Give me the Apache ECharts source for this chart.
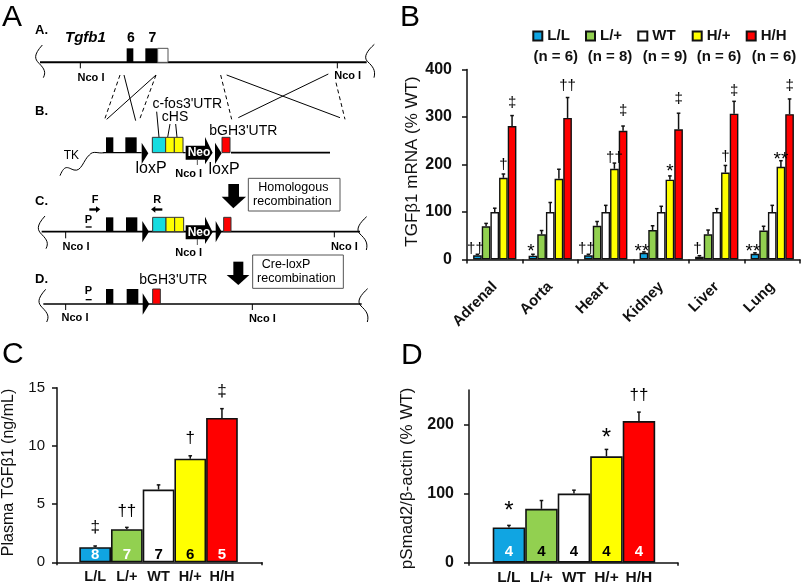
<!DOCTYPE html>
<html><head><meta charset="utf-8">
<script src="https://cdn.jsdelivr.net/npm/echarts@6/dist/echarts.min.js"></script>
<style>html,body{margin:0;padding:0;background:#fff}#c{width:803px;height:583px}</style>
</head><body><div id="c"></div>
<script>
// ---------- chart values ----------
const tissues = ['Adrenal','Aorta','Heart','Kidney','Liver','Lung'];
const genotypes = ['L/L','L/+','WT','H/+','H/H'];
const groupSizes = ['(n = 6)','(n = 8)','(n = 9)','(n = 6)','(n = 6)'];
const colours = ['#10A5E2','#92D050','#FFFFFF','#FFFF00','#FF0000'];

const mrnaLL = [9,8,9,14,6,12];
const mrnaLH = [70,53,71,62,53,61];
const mrnaWT = [100,100,100,100,100,100];
const mrnaHH1 = [172,170,191,168,183,195];
const mrnaHH2 = [281,298,271,274,307,306];
const mrnaValues = [mrnaLL,mrnaLH,mrnaWT,mrnaHH1,mrnaHH2];

const mrnaTopLL = [11,11,11,16,8,14];
const mrnaTopLH = [76,61,80,71,62,70];
const mrnaTopWT = [108,120,114,112,107,114];
const mrnaTopHH1 = [180,190,203,176,198,208];
const mrnaTopHH2 = [303,341,281,308,333,338];
const mrnaTops = [mrnaTopLL,mrnaTopLH,mrnaTopWT,mrnaTopHH1,mrnaTopHH2];

// [genotype index, tissue index, symbol, height]
const mrnaMarks = [
 [0,0,'††',23],[0,1,'*',22],[0,2,'††',23],[0,3,'**',22],[0,4,'†',23],[0,5,'**',22],
 [3,0,'†',199],[3,2,'††',213],[3,3,'*',191],[3,4,'†',216],[3,5,'**',217],
 [4,0,'‡',330],[4,1,'††',366],[4,2,'‡',313],[4,3,'‡',339],[4,4,'‡',356],[4,5,'‡',365]
];

const plasmaValues = [1.3,2.85,6.25,8.9,12.4];
const plasmaTops = [1.4,3.0,6.65,9.15,13.2];
const plasmaCounts = ['8','7','7','6','5'];
const plasmaCountColours = ['#fff','#fff','#000','#000','#fff'];
const plasmaMarks = [[0,0,'‡',3.0],[0,1,'††',4.4],[0,3,'†',10.65],[0,4,'‡',14.65]];

const smadValues = [51,78,100,154,205];
const smadTops = [54,90,105,164,218];
const smadCounts = ['4','4','4','4','4'];
const smadCountColours = ['#fff','#000','#000','#000','#fff'];
const smadMarks = [[0,0,'*',78],[0,3,'*',184],[0,4,'††',242]];

// ---------- helpers ----------
const FF = '"Liberation Sans"';
const LINE = '#111';
const BAR_SHARE = 0.78 / 5;

function errSeries(xi, yi, values, tops, slot) {
  return {
    type:'custom', xAxisIndex:xi, yAxisIndex:yi, z:1, silent:true, clip:false,
    data: values.map((v,i)=>[i,v,tops[i]]),
    encode:{x:0,y:[1,2]},
    renderItem(p, api){
      const c = api.value(0);
      const a = api.coord([c, api.value(1)]), b = api.coord([c, api.value(2)]);
      const size = api.size([1,0])[0];
      const x = a[0] + (slot===null ? 0 : (slot-2)*size*BAR_SHARE);
      const st = {stroke:LINE, lineWidth:1.5};
      return {type:'group', children:[
        {type:'line', shape:{x1:x,y1:a[1],x2:x,y2:b[1]}, style:st},
        {type:'line', shape:{x1:x-1.8,y1:b[1],x2:x+1.8,y2:b[1]}, style:st}
      ]};
    }
  };
}
function markSeries(xi, yi, marks, multi, size, starSize) {
  return {
    type:'custom', xAxisIndex:xi, yAxisIndex:yi, z:5, silent:true, clip:false,
    data: marks.map(m=>[m[1],m[3],m[0]]),
    encode:{x:0,y:1},
    renderItem(p, api){
      const m = marks[p.dataIndex];
      const pt = api.coord([api.value(0), api.value(1)]);
      const w = api.size([1,0])[0];
      const star = m[2].indexOf('*')>=0;
      const x = pt[0] + (multi ? (m[0]-2)*w*BAR_SHARE - (m[0]===0?2:0) : 0);
      return {type:'text', style:{
        text:m[2], x:x, y:pt[1]+(star?3:0), textAlign:'center', textVerticalAlign:'middle',
        font:(star?starSize:size)+'px '+FF, fill:'#000'
      }};
    }
  };
}
function singleBars(xi, yi, values, counts, countColours, dist) {
  return {
    type:'bar', xAxisIndex:xi, yAxisIndex:yi, barWidth:'100%', z:2, silent:true,
    data: values.map((v,i)=>({
      value:v,
      itemStyle:{color:colours[i],borderColor:LINE,borderWidth:1.6},
      label:{show:true,position:'insideBottom',distance:dist,formatter:counts[i],
             color:countColours[i],fontFamily:FF,fontWeight:'bold',fontSize:15}
    }))
  };
}
function valueAxis(grid, min, max, interval, title, titleSize, gap, pad, ticks, label) {
  return {
    type:'value', gridIndex:grid, min:min, max:max, interval:interval,
    name:title, nameLocation:'middle', nameGap:gap, nameRotate:90, nameMoveOverlap:false,
    nameTextStyle:{fontFamily:FF,fontSize:titleSize,color:'#111',padding:pad},
    axisLine:{show:true,lineStyle:{color:LINE,width:1.5}},
    axisTick:{show:true,length:5,inside:false,lineStyle:{color:LINE,width:1.5},customValues:ticks},
    axisLabel:Object.assign({show:true,fontFamily:FF,color:'#111',customValues:ticks},label),
    splitLine:{show:false}
  };
}
function hiddenY(grid,min,max){
  return {type:'value',gridIndex:grid,min:min,max:max,show:false,splitLine:{show:false}};
}
function frameX(grid){
  return {type:'value',gridIndex:grid,min:0,max:1,interval:1,
    axisLine:{show:true,onZero:false,lineStyle:{color:LINE,width:1.5}},
    axisTick:{show:true,length:3,lineStyle:{color:LINE,width:1.5}},
    axisLabel:{show:false},splitLine:{show:false}};
}
function barsX(grid,size){
  return {type:'category',gridIndex:grid,data:genotypes,boundaryGap:true,
    axisLine:{show:false},axisTick:{show:false},
    axisLabel:{show:true,interval:0,fontFamily:FF,fontWeight:'bold',fontSize:size,color:'#111',margin:7}};
}

// ---------- panel A schematic, in 3x zoom units ----------
const g = [];
const s = v => v/3;
function txt(t,x,y,font,fill,align){g.push({type:'text',silent:true,style:{text:t,x:s(x),y:s(y),
  textAlign:align||'center',textVerticalAlign:'middle',font:font+' '+FF,fill:fill||'#000'}});}
function rect(x,y,w,h,fill,stroke,lw){g.push({type:'rect',silent:true,shape:{x:s(x),y:s(y),width:s(w),height:s(h)},
  style:{fill:fill,stroke:stroke||null,lineWidth:lw||0}});}
function ln(x1,y1,x2,y2,lw,dash,col){g.push({type:'line',silent:true,shape:{x1:s(x1),y1:s(y1),x2:s(x2),y2:s(y2)},
  style:{stroke:col||'#000',lineWidth:lw||1,lineDash:dash?[4,3]:null}});}
function poly(pts,fill){g.push({type:'polygon',silent:true,shape:{points:pts.map(p=>[s(p[0]),s(p[1])])},style:{fill:fill||'#000'}});}
// curve: start point followed by triples of control, control, end
function curve(p,lw){
  for(let i=2;i+5<p.length;i+=6){
    g.push({type:'bezierCurve',silent:true,shape:{x1:s(p[i-2]),y1:s(p[i-1]),cpx1:s(p[i]),cpy1:s(p[i+1]),
      cpx2:s(p[i+2]),cpy2:s(p[i+3]),x2:s(p[i+4]),y2:s(p[i+5])},style:{fill:null,stroke:'#000',lineWidth:lw||1}});
  }
}
const NCO = 'bold 11px';
function nco(tx,ty1,ty2,cx,cy){ln(tx,ty1,tx,ty2,1);txt('Nco I',cx,cy,NCO);}
function neo(y){
  poly([[557,y-21],[615,y-21],[615,y-47],[638,y],[615,y+35],[615,y+21],[557,y+21]]);
  txt('Neo',597,y,'bold 12px','#fff');
}
function tri(x,y,w){poly([[x,y-32],[x,y+32],[x+(w||20),y]]);}
function boxes(x1,x2,x3,x4,y,h){
  rect(x1,y,x2-x1,h,'#16DCE0','#333',1);rect(x2,y,x3-x2,h,'#FFFF00','#333',1);rect(x3,y,x4-x3,h,'#FFFF00','#333',1);
}
const braceL = (x,y) => [x+15,y, x-12,y+30, x-8,y+42, x+5,y+55, x+22,y+72, x+26,y+82, x+18,y+98];
const braceR = (x,y) => [x+25,y, x+5,y+18, x-10,y+38, x+5,y+52, x+20,y+66, x+30,y+78, x+24,y+100];

// panel letters
[['A',2,17.5],['B',400,17.5],['C',2,355],['D',401,355.5]].forEach(a=>g.push({type:'text',silent:true,style:{text:a[0],x:a[1],y:a[2],
  textAlign:'left',textVerticalAlign:'middle',font:'30px '+FF,fill:'#000'}}));

// row A
txt('A.',105,92,'bold 13px','#000','left');
txt('Tgfb1',195,115,'italic bold 15px','#000','left');
txt('6',393,115,'bold 14px');txt('7',457,115,'bold 14px');
ln(120,187,1100,187,2);
curve(braceL(112,135));curve(braceR(1098,133));
rect(380,145,20,42,'#000');rect(436,145,37,42,'#000');rect(473,145,31,42,'#fff','#555',1);
nco(241,187,205,273,233);nco(1012,187,205,1043,229);

// homology crossings
ln(372,225,407,362,1);ln(468,225,320,358,1);
ln(360,225,315,355,1,true);ln(468,225,420,355,1,true);
ln(662,225,695,358,1,true);ln(680,225,1020,353,1);ln(985,222,715,353,1);ln(1008,248,1035,358,1,true);

// row B
txt('B.',105,335,'bold 13px','#000','left');
txt("c-fos3'UTR",562,312,'14px');txt('cHS',525,352,'14px');txt("bGH3'UTR",730,392,'14px');
ln(470,335,477,412,1);ln(510,372,503,412,1);ln(527,372,531,412,1);
curve([180,527, 195,490, 205,505, 222,510, 245,516, 250,480, 268,465, 280,450, 295,462, 312,458],1);
txt('TK',214,468,'12px');
ln(310,458,425,458,1.2);ln(693,458,990,458,1.8);
rect(318,412,22,46,'#000');rect(376,412,34,46,'#000');
tri(425,460);
boxes(457,497,523,549,412,46);
ln(549,458,557,458,1.2);
neo(458);
ln(592,478,592,495,1,false,'#555');
txt('Nco I',566,523,NCO);
tri(645,460);rect(666,412,24,46,'#FF0000','#333',1);
txt('loxP',453,506,'16px');txt('loxP',672,508,'16px');

// arrow + box 1
rect(685,552,32,40,'#000');poly([[665,590],[738,590],[700,625]]);
rect(745,535,275,98,'#fff','#555',1);
txt('Homologous',880,563,'12.5px');txt('recombination',877,605,'12.5px');

// row C
txt('C.',105,605,'bold 13px','#000','left');
txt('F',285,600,'bold 11px');txt('R',472,600,'bold 11px');txt('P',265,660,'bold 11px');
rect(268,625,22,7,'#000');poly([[288,619],[301,628],[288,638]]);
rect(464,625,23,7,'#000');poly([[466,619],[453,628],[466,638]]);
rect(257,679,18,4,'#000');
ln(125,695,1080,695,1.6);
curve(braceL(120,648));curve(braceR(1075,650));
rect(318,652,22,43,'#000');rect(378,652,34,43,'#000');
tri(427,695);
boxes(458,498,524,551,652,43);
neo(697);
ln(592,717,592,735,1,false,'#555');
tri(647,695,18);rect(671,652,22,43,'#FF0000','#333',1);
nco(197,695,715,228,742);nco(1003,695,712,1033,741);
txt('Nco I',566,758,NCO);

// arrow + box 2
rect(700,785,30,42,'#000');poly([[680,825],[748,825],[715,855]]);
rect(758,765,272,100,'#fff','#555',1);
txt('Cre-loxP',858,793,'12.5px');txt('recombination',889,835,'12.5px');

// row D
txt('D.',105,838,'bold 13px','#000','left');
txt("bGH3'UTR",520,840,'14px');
txt('P',265,873,'bold 11px');rect(257,897,18,4,'#000');
ln(130,912,1085,912,1.6);
curve(braceL(122,868));curve(braceR(1078,866));
rect(318,867,22,45,'#000');rect(380,867,35,45,'#000');
tri(428,912);
rect(458,867,23,45,'#FF0000','#333',1);
nco(197,912,930,225,955);nco(757,912,930,787,957);

// group-size line under the legend of panel B
const groupSizeX = [555.7,610,665,719,774];
groupSizes.forEach((t,i)=>g.push({type:'text',silent:true,style:{text:t,x:groupSizeX[i],y:56.5,
  textAlign:'center',textVerticalAlign:'middle',font:'bold 15px '+FF,fill:'#111'}}));

// ---------- chart ----------
const series = [];
genotypes.forEach((name,i)=>{
  series.push({type:'bar',name:name,xAxisIndex:0,yAxisIndex:0,data:mrnaValues[i],z:2,silent:true,
    barGap:'0%',barCategoryGap:'22%',
    itemStyle:{color:colours[i],borderColor:LINE,borderWidth:1.4}});
});
genotypes.forEach((name,i)=>series.push(errSeries(0,0,mrnaValues[i],mrnaTops[i],i)));
series.push(markSeries(0,0,mrnaMarks,true,15,19));
series.push(singleBars(2,2,plasmaValues,plasmaCounts,plasmaCountColours,0));
series.push(errSeries(2,2,plasmaValues,plasmaTops,null));
series.push(markSeries(2,2,plasmaMarks,false,17,24));
series.push(singleBars(4,4,smadValues,smadCounts,smadCountColours,3));
series.push(errSeries(4,4,smadValues,smadTops,null));
series.push(markSeries(4,4,smadMarks,false,17,24));

const legendLeft = [532.3,585,637.3,691.7,745.7];
const gridBase = {outerBoundsMode:'none'};
const chart = echarts.init(document.getElementById('c'),null,{renderer:'canvas'});
chart.setOption({
  animation:false,
  backgroundColor:'#fff',
  textStyle:{fontFamily:FF},
  legend:genotypes.map((name,i)=>({show:true,data:[name],selectedMode:false,left:legendLeft[i],top:28.5,
    padding:0,itemWidth:9,itemHeight:9,icon:'rect',
    textStyle:{fontFamily:FF,fontSize:15,fontWeight:'bold',color:'#111'}})),
  grid:[
    {left:467,top:69.5,width:333,height:190},
    {left:57,top:387.7,width:205,height:174.6},
    {left:79.3,top:387.7,width:158.5,height:174.6},
    {left:469,top:390,width:209,height:172.7},
    {left:492.7,top:390,width:162.5,height:172.7}
  ].map(b=>Object.assign({},gridBase,b)),
  xAxis:[
    {type:'category',gridIndex:0,data:tissues,
     axisLine:{show:true,lineStyle:{color:LINE,width:1.5}},
     axisTick:{show:true,length:4,lineStyle:{color:LINE,width:1.5}},
     axisLabel:{show:true,interval:0,rotate:45,fontFamily:FF,fontWeight:'bold',fontSize:15,color:'#111',margin:25}},
    frameX(1),barsX(2,14.5),frameX(3),barsX(4,15.5)
  ],
  yAxis:[
    valueAxis(0,0,400,100,'TGFβ1 mRNA (% WT)',17,46.5,[0,0,0,6],[0,100,200,300,400],{fontWeight:'bold',fontSize:16,margin:15}),
    valueAxis(1,0,15,5,'Plasma TGFβ1 (ng/mL)',16,40,[0,0,0,5],[0,5,10,15],{fontSize:15,margin:12}),
    hiddenY(2,0,15),
    valueAxis(3,0,250,100,'pSmad2/β-actin (% WT)',17,53,[0,4,0,0],[0,100,200],{fontWeight:'bold',fontSize:16,margin:15}),
    hiddenY(4,0,250)
  ],
  series:series,
  graphic:{elements:g}
});
</script></body></html>
